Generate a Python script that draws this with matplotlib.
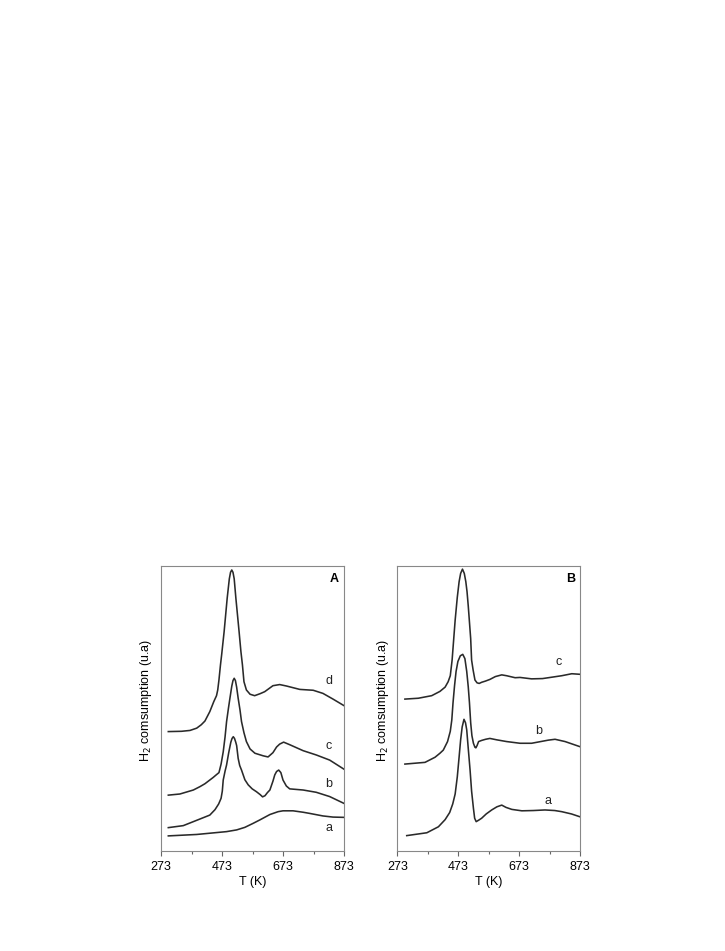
import matplotlib
matplotlib.use("Agg")
import matplotlib.pyplot as plt
from matplotlib.ticker import FixedLocator

plt.rcParams['font.family'] = ['Liberation Sans', 'DejaVu Sans']

# ---------------- Panel A data ----------------
A_d_T = [297, 340, 368, 390, 405, 417, 433, 446, 455, 459, 463, 468, 472, 480, 490, 497, 501, 505, 509, 513,
         518.5, 529, 535, 540, 545, 553, 565, 580, 598, 613, 640, 662, 684, 695, 728, 772, 804, 837, 873]
A_d_v = [41.9, 42.0, 42.3, 43.1, 44.3, 45.6, 48.9, 52.4, 54.5, 56.5, 60.0, 65.3, 69.0, 77.0, 88.7, 95.5, 97.8, 98.6, 97.8, 95.5,
         88.7, 77.0, 70.0, 65.3, 59.4, 56.5, 55.0, 54.5, 55.2, 55.9, 58.0, 58.4, 57.9, 57.6, 56.7, 56.4, 55.3, 53.3, 51.0]

A_c_T = [297, 335, 379, 401, 417, 444, 455, 463, 470, 477, 483, 488, 494, 499, 505, 509, 513, 517, 521, 526,
         532, 537, 545, 553, 565, 581, 608, 624, 640, 652, 662, 675, 695, 739, 782, 826, 873]
A_c_v = [19.6, 20.0, 21.4, 22.6, 23.6, 25.8, 26.8, 27.5, 30.5, 34.8, 40.0, 45.4, 50.0, 53.6, 57.8, 59.8, 60.6, 59.8, 57.5, 53.6,
         49.5, 45.4, 41.5, 38.4, 35.8, 34.3, 33.4, 33.0, 34.5, 36.5, 37.5, 38.2, 37.3, 35.2, 33.7, 31.9, 28.7]

A_b_T = [297, 346, 379, 433, 450, 462, 470, 474, 477, 483, 488, 495, 502, 506, 510, 514, 518, 521, 526, 531,
         537, 548, 559, 572, 586, 598, 606, 614, 622, 630, 640, 646, 652, 659, 666, 673, 684, 695, 739, 782, 826, 873]
A_b_v = [8.2, 8.9, 10.3, 12.6, 14.5, 16.5, 18.5, 21.0, 24.9, 28.0, 30.2, 34.5, 38.2, 39.5, 40.1, 39.5, 38.2, 37.0, 32.5, 30.0,
         28.4, 25.0, 23.2, 21.8, 20.8, 19.8, 19.0, 19.4, 20.5, 21.4, 24.5, 26.7, 27.9, 28.4, 27.5, 24.9, 22.8, 21.8, 21.4, 20.6, 19.1, 16.7]

A_a_T = [297, 390, 488, 521, 548, 575, 597, 630, 657, 673, 706, 739, 760, 804, 837, 873]
A_a_v = [5.3, 5.8, 6.8, 7.4, 8.3, 9.7, 10.9, 12.8, 13.8, 14.1, 14.1, 13.6, 13.2, 12.3, 11.9, 11.8]

# ---------------- Panel B data ----------------
B_c_T = [298, 342, 386, 413, 430, 440, 447, 453, 458, 463, 470, 476, 481, 487, 493, 498, 502, 506, 509.5, 514,
         517, 522, 528, 535, 542, 550, 562, 577, 595, 616, 632, 660, 676, 714, 750, 769, 813, 846, 873]
B_c_v = [53.3, 53.6, 54.5, 56.0, 57.5, 59.4, 61.5, 67.0, 74.0, 81.0, 89.0, 94.5, 97.4, 98.9, 97.4, 94.5, 91.0, 86.0, 81.0, 74.5,
         67.0, 63.5, 60.0, 59.0, 58.8, 59.2, 59.6, 60.2, 61.2, 61.8, 61.5, 60.8, 60.9, 60.4, 60.5, 60.8, 61.5, 62.2, 62.0]

B_b_T = [298, 364, 397, 413, 424, 438, 447, 452, 456, 461, 466, 472, 480, 488, 495, 501, 506, 510, 514, 518,
         523, 528, 531, 535, 540, 550, 563, 577, 600, 632, 676, 714, 769, 791, 824, 873]
B_b_v = [30.5, 31.1, 32.9, 34.3, 35.4, 38.4, 42.0, 46.0, 52.0, 58.0, 63.0, 66.5, 68.5, 69.0, 67.5, 63.0, 57.6, 52.0, 45.0, 40.5,
         37.8, 36.4, 36.2, 37.0, 38.4, 38.8, 39.2, 39.5, 39.0, 38.4, 37.8, 37.8, 38.9, 39.2, 38.4, 36.6]

B_a_T = [304, 370, 408, 430, 445, 455, 463, 470, 476, 481, 486, 492, 497, 501, 506, 512, 517, 523, 527, 532,
         540, 550, 565, 583, 600, 616, 630, 649, 682, 720, 758, 790, 813, 845, 873]
B_a_v = [5.4, 6.4, 8.5, 11.0, 13.5, 16.5, 20.0, 26.0, 33.0, 39.0, 43.5, 46.2, 45.0, 42.5, 36.0, 28.4, 21.0, 15.0, 11.5, 10.3,
         10.8, 11.5, 13.0, 14.4, 15.5, 16.1, 15.3, 14.6, 14.1, 14.2, 14.4, 14.2, 13.8, 13.0, 12.0]

x_ticks = [273, 473, 673, 873]
x_minor_ticks = [373, 573, 773]
x_tick_labels = ["273", "473", "673", "873"]

A_curve_labels = ["d", "c", "b", "a"]
A_label_pos = [(824, 59.6), (824, 37.0), (824, 23.5), (824, 8.2)]
B_curve_labels = ["c", "b", "a"]
B_label_pos = [(802, 66.2), (738, 42.2), (769, 17.5)]

fig = plt.figure(figsize=(7.25, 9.51), dpi=100)
axA = fig.add_axes([161 / 725, 100 / 951, 183 / 725, 285 / 951])
axB = fig.add_axes([397.3 / 725, 100 / 951, 182.7 / 725, 285 / 951])

line_kw = dict(color='#2a2a2a', lw=1.15, solid_joinstyle='round')
axA.plot(A_d_T, A_d_v, **line_kw)
axA.plot(A_c_T, A_c_v, **line_kw)
axA.plot(A_b_T, A_b_v, **line_kw)
axA.plot(A_a_T, A_a_v, **line_kw)

axB.plot(B_c_T, B_c_v, **line_kw)
axB.plot(B_b_T, B_b_v, **line_kw)
axB.plot(B_a_T, B_a_v, **line_kw)

for lab, (x, y) in zip(A_curve_labels, A_label_pos):
    axA.text(x, y, lab, fontsize=9, ha='center', va='center', color='#222222')
for lab, (x, y) in zip(B_curve_labels, B_label_pos):
    axB.text(x, y, lab, fontsize=9, ha='center', va='center', color='#222222')

axA.text(842, 95.4, "A", fontsize=9, fontweight='bold', ha='center', va='center')
axB.text(843, 95.4, "B", fontsize=9, fontweight='bold', ha='center', va='center')

for ax in (axA, axB):
    ax.set_xlim(273, 873)
    ax.set_ylim(0, 100)
    ax.set_xticks(x_ticks)
    ax.set_xticklabels(x_tick_labels, fontsize=9)
    ax.xaxis.set_minor_locator(FixedLocator(x_minor_ticks))
    ax.set_yticks([])
    ax.tick_params(axis='x', which='major', direction='out', length=3.5, width=0.8, color='#666666', pad=4)
    ax.tick_params(axis='x', which='minor', direction='out', length=2.2, width=0.8, color='#666666')
    for s in ax.spines.values():
        s.set_color('#888888')
        s.set_linewidth(0.8)
    ax.set_xlabel("T (K)", fontsize=9, labelpad=1.5)
    ax.set_ylabel("H$_2$ comsumption (u.a)", fontsize=9)
    ax.yaxis.set_label_coords(-0.037, 0.53)

fig.savefig("out.png", dpi=100)
